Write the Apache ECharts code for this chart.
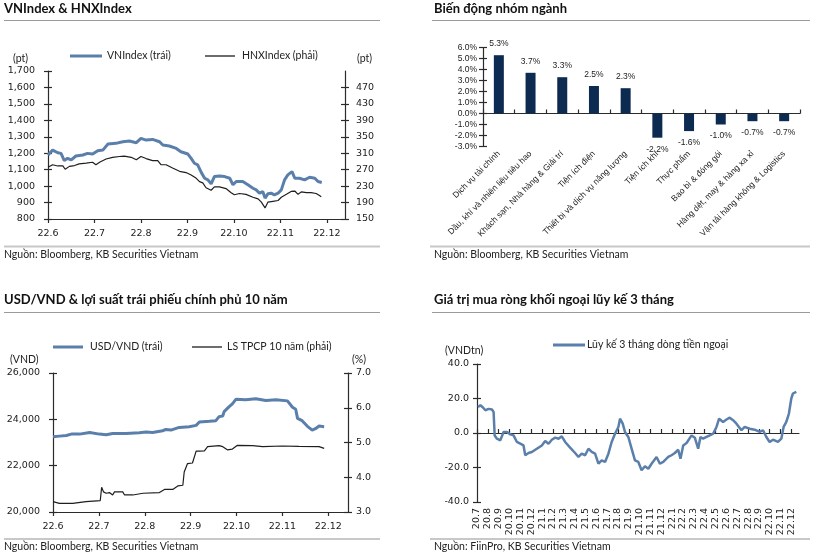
<!DOCTYPE html>
<html><head><meta charset="utf-8">
<script src="https://cdn.jsdelivr.net/npm/echarts@6/dist/echarts.min.js"></script>
<style>html,body{margin:0;padding:0;background:#fff}#c{width:816px;height:556px}</style>
</head><body><div id="c"></div><script>
// ---- Panel 1: VNIndex & HNXIndex (time in months since 22.6) ----
const monthLabelsA = ['22.6','22.7','22.8','22.9','22.10','22.11','22.12'];
const vnT = [0,0.10,0.21,0.28,0.35,0.42,0.50,0.60,0.75,0.85,
  0.96,1.07,1.18,1.29,1.46,1.61,1.75,1.90,2.00,2.11,
  2.25,2.40,2.47,2.61,2.76,2.86,3.01,3.08,3.15,3.22,
  3.30,3.37,3.44,3.51,3.58,3.69,3.80,3.91,3.98,4.05,
  4.19,4.30,4.41,4.48,4.55,4.62,4.67,4.73,4.80,4.87,
  4.95,5.02,5.09,5.16,5.25,5.31,5.41,5.52,5.63,5.74,
  5.81,5.89];
const vnVals = [1189,1219,1203,1199,1155,1169,1159,1183,1189,1199,
  1195,1215,1219,1256,1260,1270,1274,1264,1290,1280,
  1284,1270,1250,1244,1229,1209,1195,1169,1139,1129,
  1082,1048,1038,1014,1058,1062,1058,1048,1008,1028,
  1028,1008,987,977,957,967,927,953,957,947,
  957,977,1038,1068,1088,1048,1048,1038,1054,1048,
  1028,1022];
const hnxT = [0,0.10,0.21,0.32,0.37,0.46,0.57,0.67,0.82,0.96,
  1.03,1.11,1.25,1.39,1.54,1.64,1.79,1.90,2.00,2.11,
  2.25,2.36,2.43,2.54,2.68,2.83,2.97,3.08,3.19,3.26,
  3.33,3.40,3.51,3.58,3.69,3.83,3.94,4.01,4.12,4.26,
  4.41,4.52,4.59,4.67,4.73,4.84,4.95,5.02,5.13,5.23,
  5.31,5.38,5.45,5.56,5.66,5.77,5.84,5.88];
const hnxVals = [276,282,279,279,271,278,280,284,286,288,
  282,288,296,300,302,303,300,294,302,297,
  292,292,282,282,274,266,263,257,249,241,
  238,226,220,228,228,224,214,209,212,210,
  203,199,191,177,191,193,195,203,210,217,
  218,210,216,214,214,212,207,204];
const hnxTicks = [150,190,230,270,310,350,390,430,470];

// ---- Panel 2: sector changes ----
const sectorNames = ['Dịch vụ tài chính','Dầu, khí và nhiên liệu tiêu hao','Khách sạn, Nhà hàng & Giải trí',
  'Tiện ích điện','Thiết bị và dịch vụ năng lượng','Tiện ích khí','Thực phẩm','Bao bì & đóng gói',
  'Hàng dệt, may & hàng xa xỉ','Vận tải hàng không & Logistics'];
const sectorChange = [5.3,3.7,3.3,2.5,2.3,-2.2,-1.6,-1.0,-0.7,-0.7];

// ---- Panel 3: USD/VND & 10y bond yield ----
const fxT = [0,0.14,0.29,0.40,0.58,0.80,1.01,1.16,1.30,1.59,
  1.88,2.03,2.17,2.39,2.46,2.57,2.75,2.97,3.12,3.19,
  3.41,3.55,3.62,3.70,3.73,3.84,3.91,3.99,4.20,4.42,
  4.64,4.86,5.11,5.22,5.29,5.33,5.43,5.54,5.65,5.72,
  5.80,5.91];
const fxVals = [23246,23275,23304,23362,23362,23435,23362,23333,23391,23391,
  23420,23449,23435,23507,23565,23536,23652,23681,23739,23884,
  23913,23942,24116,24145,24333,24551,24667,24870,24841,24884,
  24812,24841,24797,24522,24435,24043,23942,23710,23536,23594,
  23710,23681];
const bondT = [0,0.14,0.43,0.72,1.03,1.06,1.10,1.16,1.23,1.30,
  1.34,1.52,1.56,1.74,1.96,2.32,2.43,2.61,2.72,2.83,
  2.86,2.93,3.04,3.12,3.19,3.30,3.37,3.62,3.70,3.80,
  3.91,4.02,4.35,4.57,5.00,5.36,5.80,5.91];
const bondVals = [3.30,3.25,3.25,3.30,3.33,3.71,3.58,3.54,3.56,3.49,
  3.58,3.58,3.49,3.49,3.54,3.56,3.65,3.65,3.75,3.77,
  4.15,4.39,4.41,4.75,4.75,4.76,4.88,4.91,4.88,4.79,
  4.81,4.92,4.91,4.88,4.90,4.89,4.88,4.83];

// ---- Panel 4: foreign 3-month cumulative net flows (months since 20.7) ----
const flowMonthLabels = ['20.7','20.8','20.9','20.10','20.11','20.12',
  '21.1','21.2','21.3','21.4','21.5','21.6','21.7','21.8','21.9','21.10','21.11','21.12',
  '22.1','22.2','22.3','22.4','22.5','22.6','22.7','22.8','22.9','22.10','22.11','22.12'];
const flowT = [0.09,0.31,0.55,0.77,1.07,1.38,1.53,1.63,1.84,2.15,
  2.30,2.45,2.76,3.07,3.37,3.68,3.99,4.29,4.45,4.75,
  5.06,5.52,5.98,6.29,6.60,6.90,7.21,7.52,7.82,8.13,
  8.59,9.05,9.36,9.66,9.97,10.28,10.58,10.89,11.20,11.50,
  11.81,12.12,12.42,12.73,13.04,13.19,13.44,13.65,13.96,14.26,
  14.57,14.88,15.18,15.49,15.80,16.10,16.56,16.87,17.18,17.64,
  17.94,18.25,18.56,18.77,19.02,19.33,19.79,20.09,20.40,20.61,
  20.86,21.17,21.47,21.78,22.09,22.33,22.70,23.01,23.31,23.62,
  23.93,24.39,24.69,25.15,25.61,26.07,26.38,26.69,26.99,27.30,
  27.76,28.07,28.28,28.53,28.77,28.99,29.14,29.45];
const flowVals = [15.1,16.1,14.8,13.2,14.0,13.6,12.2,-1.4,-3.3,-4.3,
  -3.9,0.6,0.6,-0.8,-1.4,-5.2,-6.2,-7.2,-12.9,-11.6,
  -11.0,-9.1,-7.2,-4.6,-6.2,-3.9,-2.7,-3.3,-1.9,-5.2,
  -8.5,-11.6,-13.9,-12.0,-12.9,-9.1,-11.0,-12.0,-17.8,-15.9,
  -16.8,-12.0,-5.2,-0.4,3.5,8.3,5.4,0.6,-2.3,-9.1,
  -15.9,-16.8,-21.6,-19.3,-20.7,-17.8,-13.9,-17.8,-16.8,-13.9,
  -12.9,-11.6,-9.7,-14.9,-7.2,-5.8,-1.4,-2.7,-9.1,-2.3,
  -3.3,-2.3,-1.4,-0.4,3.5,8.3,6.4,7.8,8.9,7.4,
  5.4,1.6,3.5,2.5,1.9,0.6,1.6,-2.3,-5.2,-3.9,
  -5.2,-3.3,3.5,6.4,11.3,20.0,22.9,23.9];

// ---- styling ----
const BLUE = '#5b7fab', DARK = '#1e1e1e', NAVY = '#0d2b51', AX = '#2b2b2b';
const TF = 'DejaVu Sans';
const zip = (a, b) => a.map((v, i) => [v, b[i]]);
const range = n => Array.from({length: n}, (_, i) => i);
const tickStyle = {color: AX, width: 1.2};

function yAx(o) {
  return Object.assign({
    type: 'value', splitLine: {show: false},
    axisLine: {show: true, lineStyle: {color: AX, width: 1.2}},
    axisTick: {show: true, length: 4, lineStyle: tickStyle},
    axisLabel: {color: '#222', fontFamily: TF, fontSize: 9.5, margin: 12}
  }, o);
}
// invisible twin axis that only draws the inner half of crossing tick marks
function yTwin(gridIndex, position, min, max, interval, custom) {
  const t = {show: true, inside: true, length: 4, lineStyle: tickStyle};
  if (custom) t.customValues = custom;
  return {type: 'value', gridIndex: gridIndex, position: position, min: min, max: max,
    interval: interval, splitLine: {show: false}, axisLine: {show: false},
    axisLabel: {show: false}, axisTick: t};
}
function xVal(o) {
  return Object.assign({
    type: 'value', splitLine: {show: false},
    axisLine: {show: true, onZero: false, lineStyle: {color: AX, width: 1.2}},
    axisTick: {show: true, length: 4, lineStyle: tickStyle},
    axisLabel: {color: '#222', fontFamily: TF, fontSize: 9.5, margin: 10}
  }, o);
}

const sectorData = sectorChange.map(v => ({
  value: v,
  label: {position: v < 0 ? 'bottom' : 'top'}
}));

function txt(x, y, text, font, opts) {
  return {type: 'text', x: x, y: y, silent: true,
    style: Object.assign({text: text, font: font, fill: '#222', textVerticalAlign: 'middle'}, opts || {})};
}
function ln(x1, y1, x2, y2, color, w) {
  return {type: 'line', silent: true, shape: {x1: x1, y1: y1, x2: x2, y2: y2},
    style: {stroke: color, lineWidth: w}};
}
const TITLE = 'bold 13px Lato', SMALL = '10.5px Lato';

const graphics = [
  txt(4, 8.5, 'VNIndex & HNXIndex', TITLE, {fill: '#111'}),
  txt(434, 8.5, 'Biến động nhóm ngành', TITLE, {fill: '#111'}),
  txt(4, 300, 'USD/VND & lợi suất trái phiếu chính phủ 10 năm', TITLE, {fill: '#111'}),
  txt(434, 300, 'Giá trị mua ròng khối ngoại lũy kế 3 tháng', TITLE, {fill: '#111'}),
  ln(4, 20.5, 380, 20.5, '#9a9a9a', 1),
  ln(432, 20.5, 810, 20.5, '#9a9a9a', 1),
  ln(4, 312.5, 380, 312.5, '#9a9a9a', 1),
  ln(432, 312.5, 810, 312.5, '#9a9a9a', 1),
  ln(4, 246.5, 380, 246.5, '#c8c8c8', 2),
  ln(430, 246.5, 810, 246.5, '#c8c8c8', 2),
  ln(4, 539, 380, 539, '#c8c8c8', 2),
  ln(430, 539, 810, 539, '#c8c8c8', 2),
  txt(4, 255, 'Nguồn: Bloomberg, KB Securities Vietnam', SMALL),
  txt(434, 255, 'Nguồn: Bloomberg, KB Securities Vietnam', SMALL),
  txt(4, 547, 'Nguồn: Bloomberg, KB Securities Vietnam', SMALL),
  txt(434, 547, 'Nguồn: FiinPro, KB Securities Vietnam', SMALL),
  // panel 1 legend & units
  ln(70, 56, 102, 56, BLUE, 3), txt(107, 56, 'VNIndex (trái)', SMALL),
  ln(205, 56, 235, 56, DARK, 1.3), txt(242, 56, 'HNXIndex (phải)', SMALL),
  txt(13, 59, '(pt)', SMALL), txt(357, 59, '(pt)', SMALL),
  // panel 3 legend & units
  ln(53, 347, 83, 347, BLUE, 3), txt(90, 347, 'USD/VND (trái)', SMALL),
  ln(192, 347, 222, 347, DARK, 1.3), txt(227, 347, 'LS TPCP 10 năm (phải)', SMALL),
  txt(10, 360, '(VND)', SMALL), txt(352, 360, '(%)', SMALL),
  // panel 4 legend & units
  ln(553, 345, 585, 345, BLUE, 3), txt(587, 345, 'Lũy kế 3 tháng dòng tiền ngoại', SMALL),
  txt(445, 351, '(VNDtn)', SMALL)
];

const option = {
  animation: false,
  backgroundColor: '#fff',
  grid: [
    {left: 48, top: 71, width: 297, height: 148, containLabel: false, outerBoundsMode: 'none'},
    {left: 483, top: 47.5, width: 317, height: 99, containLabel: false, outerBoundsMode: 'none'},
    {left: 53, top: 373, width: 295, height: 139, containLabel: false, outerBoundsMode: 'none'},
    {left: 477, top: 364, width: 322, height: 138, containLabel: false, outerBoundsMode: 'none'}
  ],
  xAxis: [
    xVal({gridIndex: 0, min: 0, max: 6.39,
      axisTick: {show: true, length: 4, customValues: range(7), lineStyle: tickStyle},
      axisLabel: {customValues: range(7), formatter: v => monthLabelsA[Math.round(v)],
        color: '#222', fontFamily: TF, fontSize: 9.5, margin: 10}}),
    {gridIndex: 1, type: 'category', data: sectorNames,
      axisLine: {show: true, onZero: true, lineStyle: {color: AX, width: 1.2}},
      axisTick: {show: true, inside: true, length: 4, alignWithLabel: false, lineStyle: tickStyle},
      axisLabel: {interval: 0, rotate: 45, margin: 6, color: '#222', fontFamily: 'Liberation Sans', fontSize: 8.5}},
    xVal({gridIndex: 2, min: 0, max: 6.43,
      axisTick: {show: true, length: 4, customValues: range(7), lineStyle: tickStyle},
      axisLabel: {customValues: range(7), formatter: v => monthLabelsA[Math.round(v)],
        color: '#222', fontFamily: TF, fontSize: 9.5, margin: 10}}),
    xVal({gridIndex: 3, min: 0, max: 29.7,
      axisLine: {show: true, onZero: true, lineStyle: {color: AX, width: 1.2}},
      axisTick: {show: true, inside: true, length: 4, customValues: range(30), lineStyle: tickStyle},
      axisLabel: {customValues: range(30), formatter: v => flowMonthLabels[Math.round(v)], rotate: 90,
        color: '#222', fontFamily: TF, fontSize: 9.5, margin: 6}})
  ],
  yAxis: [
    yAx({gridIndex: 0, position: 'left', min: 800, max: 1700, interval: 100, axisLabel: {color: '#222', fontFamily: TF, fontSize: 9.5, margin: 13}}),
    yAx({gridIndex: 0, position: 'right', min: 150, max: 510,
      axisTick: {show: true, length: 4, customValues: hnxTicks, lineStyle: tickStyle},
      axisLabel: {customValues: hnxTicks, color: '#222', fontFamily: TF, fontSize: 9.5, margin: 11}}),
    yAx({gridIndex: 1, min: -3, max: 6, interval: 1,
      axisLabel: {formatter: v => v.toFixed(1) + '%', color: '#222', fontFamily: 'Liberation Sans', fontSize: 8.5, margin: 6}}),
    yAx({gridIndex: 2, position: 'left', min: 20000, max: 26000, interval: 2000, axisLabel: {color: '#222', fontFamily: TF, fontSize: 9.5, margin: 13}}),
    yAx({gridIndex: 2, position: 'right', min: 3, max: 7, interval: 1,
      axisLabel: {formatter: v => v.toFixed(1), color: '#222', fontFamily: TF, fontSize: 9.5, margin: 8}}),
    yAx({gridIndex: 3, min: -40, max: 40, interval: 20,
      axisLabel: {formatter: v => v.toFixed(1), color: '#222', fontFamily: TF, fontSize: 9.5, margin: 8}}),
    // twins (indices 6..11) for crossing tick marks
    yTwin(0, 'left', 800, 1700, 100),
    yTwin(0, 'right', 150, 510, null, hnxTicks),
    yTwin(1, 'left', -3, 6, 1),
    yTwin(2, 'left', 20000, 26000, 2000),
    yTwin(2, 'right', 3, 7, 1),
    yTwin(3, 'left', -40, 40, 20)
  ],
  series: [
    {type: 'line', xAxisIndex: 0, yAxisIndex: 0, data: zip(vnT, vnVals), showSymbol: false,
      lineStyle: {color: BLUE, width: 3}, itemStyle: {color: BLUE}},
    {type: 'line', xAxisIndex: 0, yAxisIndex: 1, data: zip(hnxT, hnxVals), showSymbol: false,
      lineStyle: {color: DARK, width: 1.2}, itemStyle: {color: DARK}},
    {type: 'bar', xAxisIndex: 1, yAxisIndex: 2, data: sectorData, barWidth: 10,
      itemStyle: {color: NAVY},
      label: {show: true, distance: 7, formatter: p => p.value.toFixed(1) + '%',
        color: '#222', fontFamily: 'Liberation Sans', fontSize: 8.5}},
    {type: 'line', xAxisIndex: 2, yAxisIndex: 3, data: zip(fxT, fxVals), showSymbol: false,
      lineStyle: {color: BLUE, width: 3}, itemStyle: {color: BLUE}},
    {type: 'line', xAxisIndex: 2, yAxisIndex: 4, data: zip(bondT, bondVals), showSymbol: false,
      lineStyle: {color: DARK, width: 1.2}, itemStyle: {color: DARK}},
    {type: 'line', xAxisIndex: 3, yAxisIndex: 5, data: zip(flowT, flowVals), showSymbol: false,
      lineStyle: {color: BLUE, width: 2.5}, itemStyle: {color: BLUE}}
  ],
  graphic: graphics
};
const chart = echarts.init(document.getElementById('c'), null, {renderer: 'canvas'});
chart.setOption(option);
</script></body></html>
